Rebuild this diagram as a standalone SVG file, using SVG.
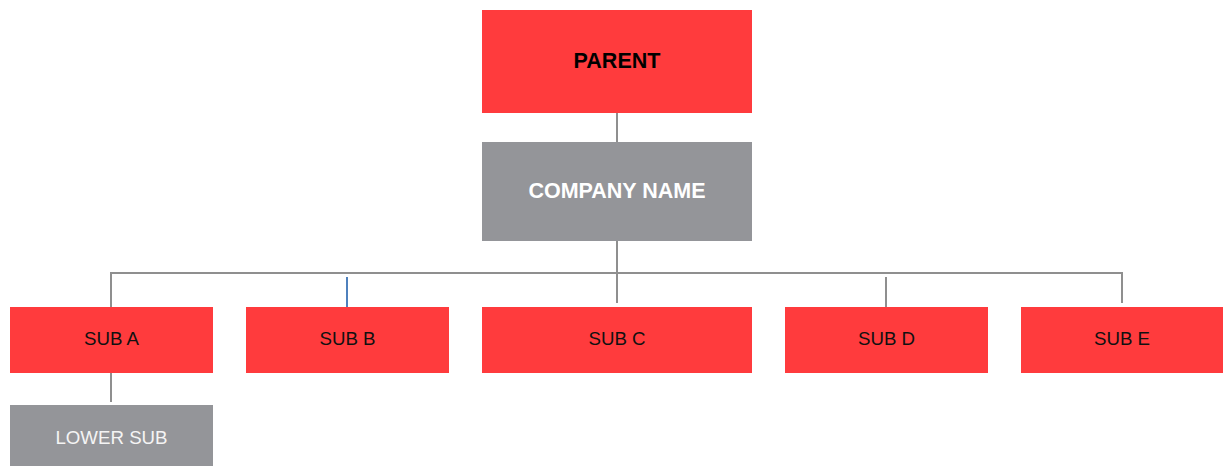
<svg xmlns="http://www.w3.org/2000/svg" width="1223" height="466" viewBox="0 0 1223 466">
<style>
.red{fill:#FF3B3D}
.gray{fill:#949599}
.ln{stroke:#8F8F8F;stroke-width:2;fill:none}
.blue{stroke:#4F81BD;stroke-width:2;fill:none}
text{font-family:"Liberation Sans",Arial,sans-serif;text-anchor:middle;dominant-baseline:central}
.b{font-weight:bold;font-size:21.5px}
.s{font-size:18.7px;fill:#111}
.w{fill:#fff}
</style>
<rect width="1223" height="466" fill="#fff"/>
<g id="connectors">
<line class="ln" x1="617" y1="108" x2="617" y2="142"/>
<line class="ln" x1="617" y1="241" x2="617" y2="273"/>
<polyline class="ln" points="111,307 111,273 1122,273 1122,303"/>
<line class="blue" x1="347" y1="277" x2="347" y2="307"/>
<line class="ln" x1="617" y1="273" x2="617" y2="303"/>
<line class="ln" x1="886" y1="277" x2="886" y2="307"/>
<line class="ln" x1="111" y1="373" x2="111" y2="402"/>
</g>
<g id="parent"><rect class="red" x="482" y="10" width="270" height="103"/><text class="b" x="617" y="60.5">PARENT</text></g>
<g id="company"><rect class="gray" x="482" y="142" width="270" height="99"/><text class="b w" x="617" y="190.5">COMPANY NAME</text></g>
<g id="subA"><rect class="red" x="10" y="307" width="203" height="66"/><text class="s" x="111.5" y="338.5">SUB A</text></g>
<g id="subB"><rect class="red" x="246" y="307" width="203" height="66"/><text class="s" x="347.5" y="338.5">SUB B</text></g>
<g id="subC"><rect class="red" x="482" y="307" width="270" height="66"/><text class="s" x="617" y="338.5">SUB C</text></g>
<g id="subD"><rect class="red" x="785" y="307" width="203" height="66"/><text class="s" x="886.5" y="338.5">SUB D</text></g>
<g id="subE"><rect class="red" x="1021" y="307" width="203" height="66"/><text class="s" x="1122" y="338.5">SUB E</text></g>
<g id="lowerSub"><rect class="gray" x="10" y="405" width="203" height="61"/><text class="s" x="111.5" y="437.5" style="fill:#F4F4F4">LOWER SUB</text></g>
</svg>
